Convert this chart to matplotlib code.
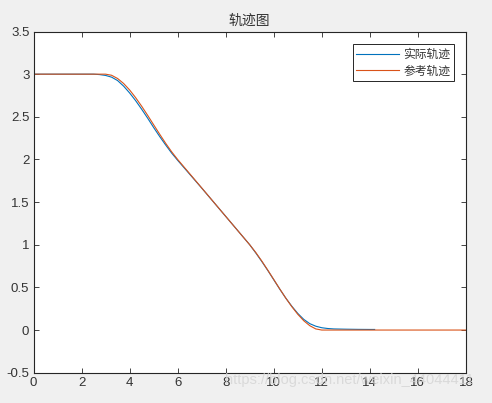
import matplotlib
matplotlib.use("Agg")
import matplotlib.pyplot as plt

# Curves
ref_x = [0, 1, 2, 2.75, 3.0, 3.25, 3.5, 3.75, 4.0, 4.25, 4.5, 4.75, 5.0, 5.25, 5.5, 5.75,
         6.0, 7.0, 8.0, 9.0, 9.25, 9.5, 9.75, 10.0, 10.25, 10.5, 10.75, 11.0, 11.25,
         11.5, 11.75, 12.0, 13, 14, 15, 16, 17, 18]
ref_y = [3, 3, 3, 3, 3.0, 2.987, 2.949, 2.891, 2.815, 2.725, 2.625, 2.518, 2.407, 2.297,
         2.190, 2.090, 2.0, 1.667, 1.333, 1.0, 0.910, 0.810, 0.703, 0.593, 0.482, 0.375,
         0.275, 0.185, 0.109, 0.051, 0.013, 0.0, 0, 0, 0, 0, 0, 0]

act_x = [0, 1, 2, 2.5, 2.75, 3.0, 3.25, 3.5, 3.75, 4.0, 4.25, 4.5, 4.75, 5.0, 5.25, 5.5,
         5.75, 6.0, 7.0, 8.0, 9.0, 9.25, 9.5, 9.75, 10.0, 10.25, 10.5, 10.75, 11.0, 11.25,
         11.5, 11.75, 12.0, 12.25, 12.5, 13.0, 13.5, 14.0, 14.2]
act_y = [3, 3, 3, 3.0, 2.995, 2.985, 2.965, 2.925, 2.86, 2.78, 2.69, 2.59, 2.485, 2.375,
         2.27, 2.17, 2.075, 1.99, 1.665, 1.333, 1.0, 0.905, 0.805, 0.70, 0.59, 0.48, 0.375,
         0.28, 0.195, 0.125, 0.075, 0.045, 0.027, 0.018, 0.013, 0.010, 0.008, 0.007, 0.007]

x_ticks = [0, 2, 4, 6, 8, 10, 12, 14, 16, 18]
y_ticks = [-0.5, 0, 0.5, 1, 1.5, 2, 2.5, 3, 3.5]
y_labels = ["-0.5", "0", "0.5", "1", "1.5", "2", "2.5", "3", "3.5"]

AZUL = "#0072BD"
LARANJA = "#D95319"
EIXO = "#262626"
TEXTO = "#333333"
FUNDO = "#F0F0F0"
CJK = ["Noto Sans CJK SC", "DejaVu Sans"]

plt.rcParams["font.family"] = ["Liberation Sans", "Noto Sans CJK SC", "DejaVu Sans"]

fig = plt.figure(figsize=(4.92, 4.03), dpi=100, facecolor=FUNDO)
ax = fig.add_axes([0.0681, 0.0752, 0.8789, 0.8466])

ax.plot(act_x, act_y, color=AZUL, lw=0.8, label="实际轨迹")
ax.plot(ref_x, ref_y, color=LARANJA, lw=0.8, label="参考轨迹")

ax.set_xlim(0, 18)
ax.set_ylim(-0.5, 3.5)
ax.set_xticks(x_ticks)
ax.set_yticks(y_ticks)
ax.set_yticklabels(y_labels)
ax.tick_params(direction="in", length=3.5, width=0.6, color=EIXO, labelcolor=TEXTO,
               labelsize=9.5, top=True, right=True, pad=3)
for s in ax.spines.values():
    s.set_color(EIXO)
    s.set_linewidth(0.8)

ax.set_title("轨迹图", fontsize=10, color=TEXTO, pad=5, family=CJK)

leg = ax.legend(loc="upper right", bbox_to_anchor=(0.9723, 0.9625),
                prop={"family": CJK, "size": 8.5},
                fancybox=False, shadow=False, framealpha=1, edgecolor=EIXO,
                borderpad=0.3, handlelength=3.6, handletextpad=0.4, labelspacing=0.3,
                borderaxespad=0)
leg.get_frame().set_linewidth(0.7)
for t in leg.get_texts():
    t.set_color(TEXTO)

# watermark
fig.text(0.457, 0.057, "https://blog.csdn.net/weixin_44044411", fontsize=10.5,
         color="#D4D4D4", alpha=0.8, va="center", ha="left")

plt.savefig("out.png", dpi=100, facecolor=FUNDO)
plt.close()
